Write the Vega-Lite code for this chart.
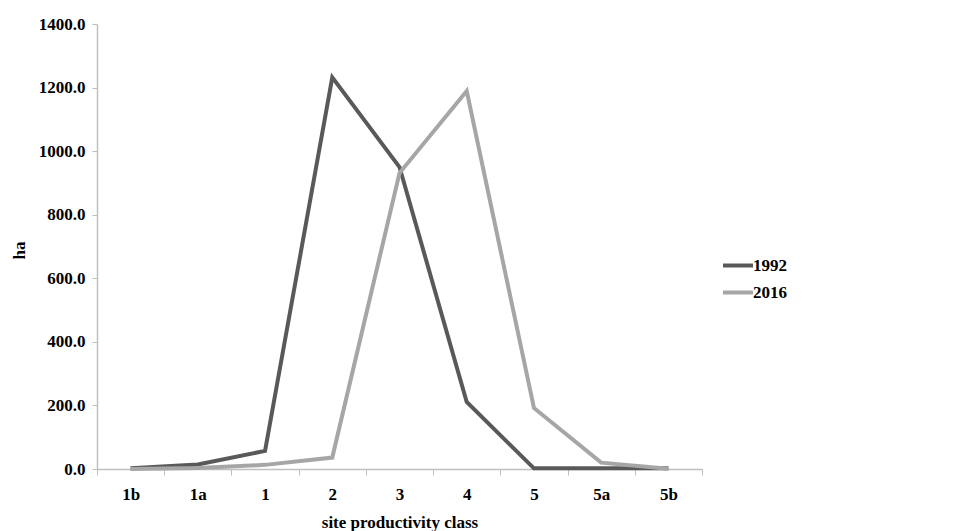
{
  "$schema": "https://vega.github.io/schema/vega-lite/v6.json",
  "width": 605,
  "height": 445,
  "autosize": {"type": "none"},
  "padding": {"left": 97, "top": 24, "right": 274, "bottom": 62},
  "background": "white",
  "config": {
    "view": {"stroke": null},
    "font": "Liberation Serif"
  },
  "data": {
    "values": [
      {"class": "1b", "year": "1992", "ha": 2},
      {"class": "1a", "year": "1992", "ha": 14},
      {"class": "1", "year": "1992", "ha": 57},
      {"class": "2", "year": "1992", "ha": 1232},
      {"class": "3", "year": "1992", "ha": 950},
      {"class": "4", "year": "1992", "ha": 211},
      {"class": "5", "year": "1992", "ha": 2},
      {"class": "5a", "year": "1992", "ha": 2},
      {"class": "5b", "year": "1992", "ha": 2},
      {"class": "1b", "year": "2016", "ha": 0},
      {"class": "1a", "year": "2016", "ha": 3},
      {"class": "1", "year": "2016", "ha": 13},
      {"class": "2", "year": "2016", "ha": 36},
      {"class": "3", "year": "2016", "ha": 931},
      {"class": "4", "year": "2016", "ha": 1189},
      {"class": "5", "year": "2016", "ha": 192},
      {"class": "5a", "year": "2016", "ha": 20},
      {"class": "5b", "year": "2016", "ha": 1}
    ]
  },
  "mark": {"type": "line", "strokeWidth": 4, "strokeJoin": "miter"},
  "encoding": {
    "x": {
      "field": "class",
      "type": "nominal",
      "sort": ["1b", "1a", "1", "2", "3", "4", "5", "5a", "5b"],
      "bandPosition": 0.5,
      "scale": {"type": "band", "paddingInner": 0, "paddingOuter": 0},
      "axis": {
        "title": "site productivity class",
        "titleFont": "Liberation Serif",
        "titleFontSize": 17,
        "titleFontWeight": "bold",
        "titleColor": "black",
        "titleBaseline": "middle",
        "titleY": 53,
        "labelAngle": 0,
        "labelFont": "Liberation Serif",
        "labelFontSize": 17,
        "labelFontWeight": "bold",
        "labelColor": "black",
        "labelPadding": 11,
        "tickBand": "extent",
        "tickSize": 6,
        "tickColor": "#bfbfbf",
        "domainColor": "#bfbfbf",
        "domainWidth": 1.5,
        "grid": false
      }
    },
    "y": {
      "field": "ha",
      "type": "quantitative",
      "scale": {"domain": [0, 1400], "nice": false},
      "axis": {
        "title": "ha",
        "titleFont": "Liberation Serif",
        "titleFontSize": 17,
        "titleFontWeight": "bold",
        "titleColor": "black",
        "titleBaseline": "middle",
        "titleX": -78,
        "titleY": 226,
        "values": [0, 200, 400, 600, 800, 1000, 1200, 1400],
        "format": ".1f",
        "labelFont": "Liberation Serif",
        "labelFontSize": 17,
        "labelFontWeight": "bold",
        "labelColor": "black",
        "labelPadding": 7,
        "tickSize": 5,
        "tickColor": "#bfbfbf",
        "domainColor": "#bfbfbf",
        "domainWidth": 1.5,
        "grid": false
      }
    },
    "color": {
      "field": "year",
      "type": "nominal",
      "scale": {"domain": ["1992", "2016"], "range": ["#595959", "#a6a6a6"]},
      "legend": {
        "title": null,
        "orient": "none",
        "legendX": 624,
        "legendY": 228,
        "symbolType": "stroke",
        "symbolSize": 900,
        "symbolStrokeWidth": 4,
        "clipHeight": 27,
        "rowPadding": 0,
        "labelOffset": -2,
        "labelFont": "Liberation Serif",
        "labelFontSize": 17,
        "labelFontWeight": "bold",
        "labelColor": "black"
      }
    }
  }
}
